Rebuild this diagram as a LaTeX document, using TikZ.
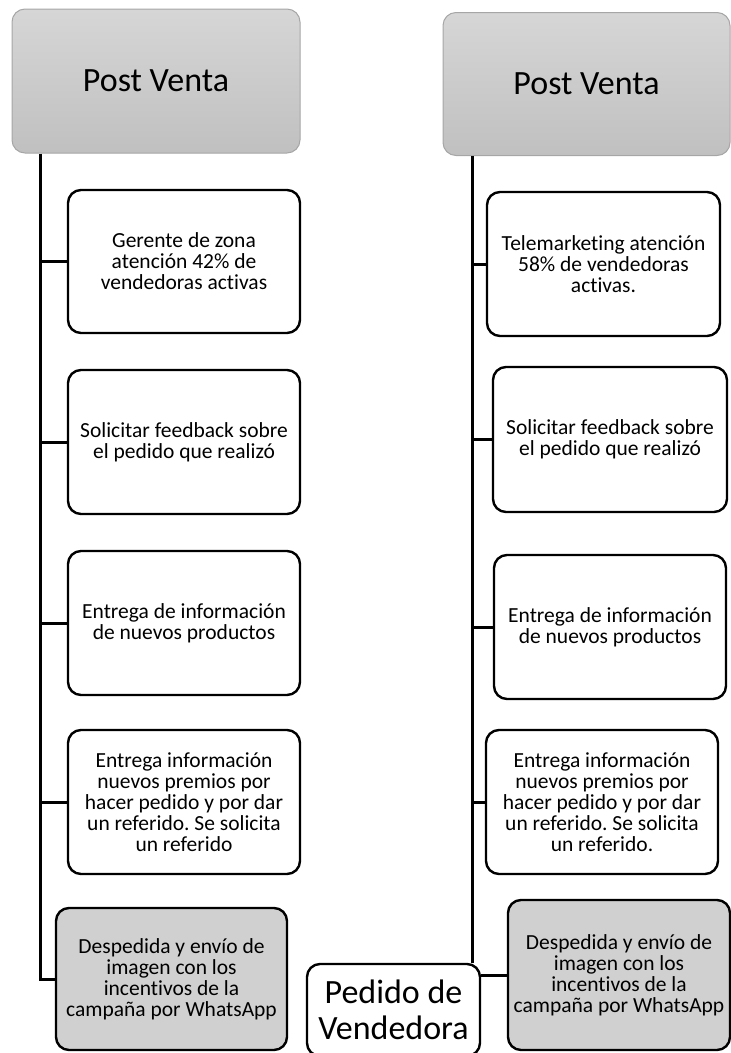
\documentclass[tikz,border=0pt]{standalone}
\usepackage{fontspec}
\setmainfont{Carlito}[Ligatures=NoCommon]
\frenchspacing
\definecolor{headtop}{RGB}{214,214,214}
\definecolor{headbot}{RGB}{192,192,192}
\definecolor{headline}{RGB}{166,166,166}
\definecolor{boxgray}{RGB}{208,208,208}
\tikzset{
  header/.style={draw=headline, line width=1pt, rounded corners=13pt,
    top color=headtop, bottom color=headbot, align=center,
    font=\fontsize{34}{36}\selectfont, inner sep=0pt},
  stepbox/.style={draw=black, line width=2.4pt, rounded corners=13pt, fill=white,
    align=center, font=\fontsize{21.5}{21}\selectfont, inner sep=0pt},
  endbox/.style={stepbox, fill=boxgray},
  bigbox/.style={stepbox, font=\fontsize{34}{36}\selectfont},
  conn/.style={line width=3pt, black},
}
\begin{document}
\begin{tikzpicture}[x=1pt,y=-1pt]
\useasboundingbox (0,0) rectangle (731,1053);

% x positions of the two spines
\coordinate (spL) at (40.5,153);
\coordinate (spR) at (472.5,156);

% left column
\node[header, minimum width=288pt, minimum height=144pt] (hL) at (156,81) {Post Venta};
\node[stepbox, minimum width=232pt, minimum height=143pt] (L1) at (184,261.5)
  {Gerente de zona\\atención 42\% de\\vendedoras activas};
\node[stepbox, minimum width=232pt, minimum height=144pt] (L2) at (184,442)
  {Solicitar feedback sobre\\el pedido que realizó};
\node[stepbox, minimum width=232pt, minimum height=144pt] (L3) at (184,623)
  {Entrega de información\\de nuevos productos};
\node[stepbox, minimum width=232pt, minimum height=144pt] (L4) at (184,802)
  {Entrega información\\nuevos premios por\\hacer pedido y por dar\\un referido. Se solicita\\un referido};
\node[endbox, minimum width=231pt, minimum height=142pt] (L5) at (171.5,979)
  {Despedida y envío de\\imagen con los\\incentivos de la\\campaña por WhatsApp};

% right column
\node[header, minimum width=287pt, minimum height=143pt] (hR) at (586.5,84) {Post Venta};
\node[stepbox, minimum width=233pt, minimum height=144pt] (R1) at (603.5,264)
  {Telemarketing atención\\58\% de vendedoras\\activas.};
\node[stepbox, minimum width=234pt, minimum height=145pt] (R2) at (610,439.5)
  {Solicitar feedback sobre\\el pedido que realizó};
\node[stepbox, minimum width=232pt, minimum height=144pt] (R3) at (610,627)
  {Entrega de información\\de nuevos productos};
\node[stepbox, minimum width=232pt, minimum height=144pt] (R4) at (602,802)
  {Entrega información\\nuevos premios por\\hacer pedido y por dar\\un referido. Se solicita\\un referido.};
\node[endbox, minimum width=222pt, minimum height=150pt] (R5) at (619,975)
  {Despedida y envío de\\imagen con los\\incentivos de la\\campaña por WhatsApp};
\node[bigbox, minimum width=173pt, minimum height=92pt] (P) at (393.5,1010)
  {Pedido de\\Vendedora};

% connectors
\draw[conn] (hL.south -| spL) |- (L5.west);
\foreach \b in {L1,L2,L3,L4} \draw[conn] (spL |- \b.west) -- (\b.west);

\draw[conn] (hR.south -| spR) -- (spR |- P.north);
\foreach \b in {R1,R2,R3,R4} \draw[conn] (spR |- \b.west) -- (\b.west);
\draw[conn] (P.east |- R5.west) -- (R5.west);
\end{tikzpicture}
\end{document}
